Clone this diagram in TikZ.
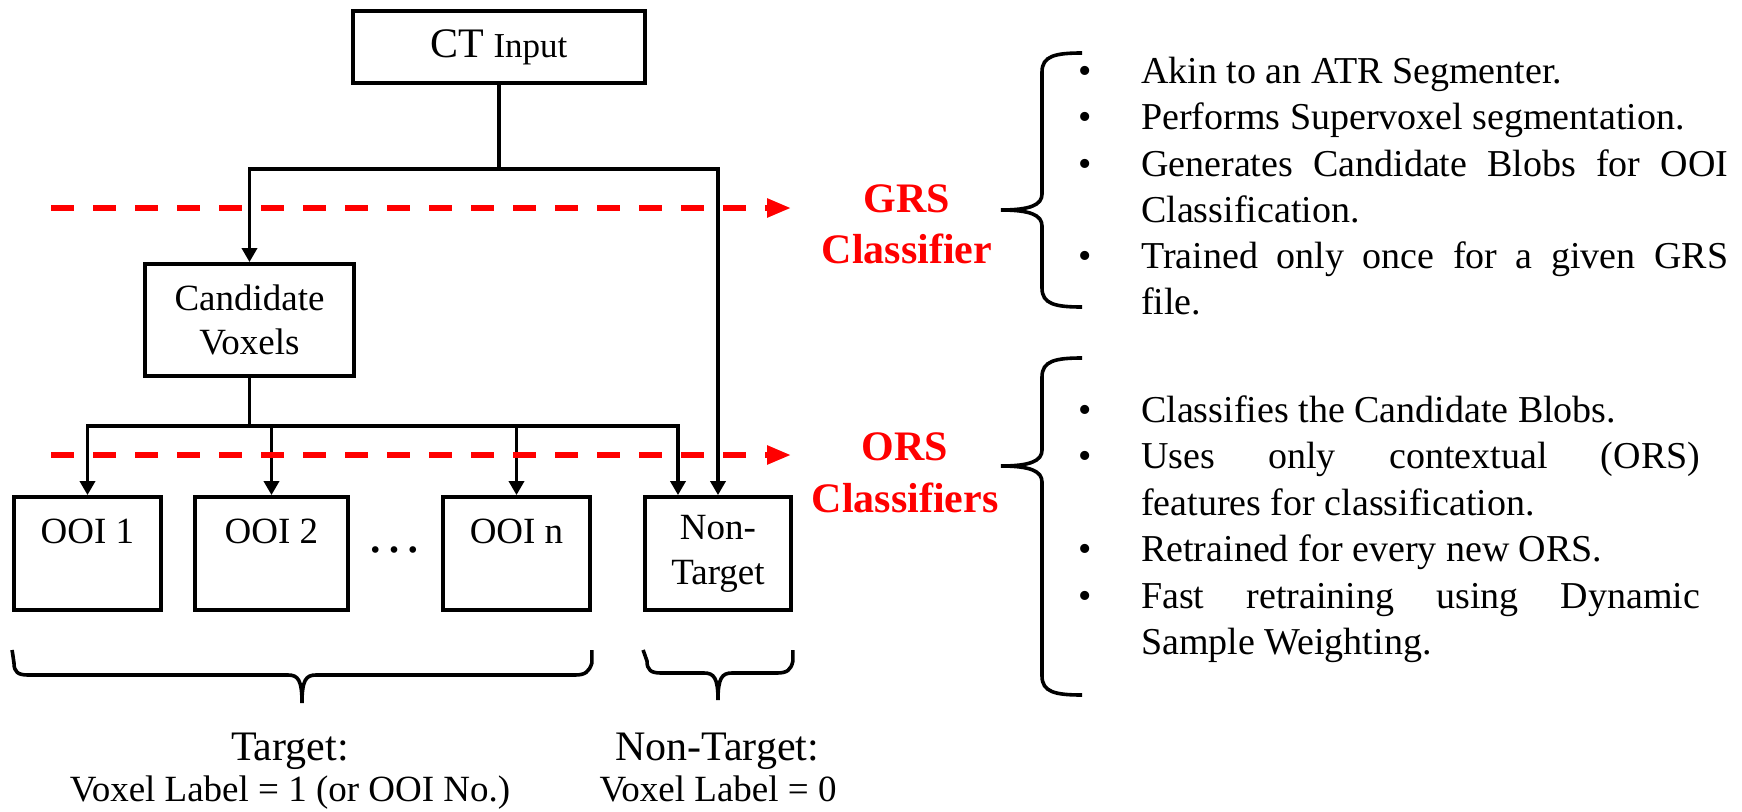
\documentclass[tikz,border=0pt]{standalone}
\usepackage{fontspec}
\setmainfont{Liberation Serif}
\usetikzlibrary{arrows.meta}
\begin{document}
\begin{tikzpicture}[x=1pt,y=-1pt,
  box/.style={draw,line width=3.8pt,inner sep=0pt,align=center,font=\fontsize{37}{45}\selectfont},
  conn/.style={line width=3.4pt},
  arr/.style={conn,-{Triangle[width=15pt,length=14pt]}},
  reddash/.style={draw=red,line width=5.5pt,dash pattern=on 23pt off 19pt,-{Triangle[width=18pt,length=24pt]}},
  redlbl/.style={anchor=base,text=red,font=\bfseries\fontsize{42}{50}\selectfont,inner sep=0pt},
  bul/.style={anchor=base,font=\fontsize{38}{46}\selectfont,inner sep=0pt},
  txt/.style={anchor=base west,font=\fontsize{38}{46}\selectfont,inner sep=0pt},
  lblbig/.style={anchor=base,font=\fontsize{42}{48}\selectfont,inner sep=0pt},
  lblsmall/.style={anchor=base,font=\fontsize{37}{44}\selectfont,inner sep=0pt},
  brace/.style={line width=3.6pt},
]
\useasboundingbox (0,0) rectangle (1742,811);

% boxes
\node[box,minimum width=292pt,minimum height=72pt] (ct) at (499,47)
  {\raisebox{-4pt}{{\fontsize{42}{50}\selectfont CT} {\fontsize{35}{42}\selectfont Input}}};
\node[box,minimum width=209pt,minimum height=112pt,font=\fontsize{37}{44}\selectfont] (cv) at (249.5,320) {Candidate\\Voxels};
\node[box,minimum width=147pt,minimum height=113pt] (o1) at (87.5,553.5) {OOI 1\\\mbox{}};
\node[box,minimum width=153pt,minimum height=113pt] (o2) at (271.5,553.5) {OOI 2\\\mbox{}};
\node[box,minimum width=147pt,minimum height=113pt] (on) at (516.5,553.5) {OOI n\\\mbox{}};
\node[box,minimum width=146pt,minimum height=113pt] (nt) at (718,553.5) {Non-\\Target};
\node[anchor=base,inner sep=0pt,font=\fontsize{56}{60}\selectfont] (dots) at (394,552) {…};

% connectors
\coordinate (j1) at (499,169);
\coordinate (j2) at (249.5,426);
\draw[conn] (ct.south) -- (j1);
\draw[arr] (j1) -| (cv.north);
\draw[arr] (j1) -| (nt.north);
\draw[conn] (cv.south) -- (j2);
\draw[arr] (j2) -| (o1.north);
\draw[arr] (j2) -| (o2.north);
\draw[arr] (j2) -| (on.north);
\draw[arr] (j2) -| ([xshift=-40pt]nt.north);

% red dashed arrows
\coordinate (g0) at (51,208);
\coordinate (g1) at (791,208);
\coordinate (r0) at (51,455);
\coordinate (r1) at (791,455);
\draw[reddash] (g0) -- (g1);
\draw[reddash] (r0) -- (r1);

% red labels
\node[redlbl] (grs1) at (907,212) {GRS};
\node[redlbl] (grs2) at (907,263) {Classifier};
\node[redlbl] (ors1) at (905,460) {ORS};
\node[redlbl] (ors2) at (905,512) {Classifiers};

% right braces
\draw[brace] (1082,53) .. controls (1055,53) and (1042,56) .. (1042,72) -- (1042,194)
  .. controls (1042,205) and (1030,210) .. (1001,210)
  .. controls (1030,210) and (1042,215) .. (1042,226) -- (1042,288)
  .. controls (1042,304) and (1055,307) .. (1082,307);
\draw[brace] (1082,358) .. controls (1055,358) and (1042,361) .. (1042,377) -- (1042,450)
  .. controls (1042,461) and (1030,466) .. (1001,466)
  .. controls (1030,466) and (1042,471) .. (1042,482) -- (1042,676)
  .. controls (1042,692) and (1055,695) .. (1082,695);

% GRS bullets
\node[bul] (gb1) at (1085,83) {•};
\node[bul] (gb2) at (1085,129) {•};
\node[bul] (gb3) at (1085,176) {•};
\node[bul] (gb4) at (1085,268) {•};
\node[txt] (gt1) at (1141,83) {Akin to an ATR Segmenter.};
\node[txt] (gt2) at (1141,129) {Performs Supervoxel segmentation.};
\node[txt] (gt3) at (1141,176) {\makebox[587pt][s]{Generates Candidate Blobs for OOI}};
\node[txt] (gt4) at (1141,222) {Classification.};
\node[txt] (gt5) at (1141,268) {\makebox[587pt][s]{Trained only once for a given GRS}};
\node[txt] (gt6) at (1141,314) {file.};

% ORS bullets
\node[bul] (ob1) at (1085,422) {•};
\node[bul] (ob2) at (1085,468.5) {•};
\node[bul] (ob3) at (1085,561.5) {•};
\node[bul] (ob4) at (1085,608) {•};
\node[txt] (ot1) at (1141,422) {Classifies the Candidate Blobs.};
\node[txt] (ot2) at (1141,468.5) {\makebox[559pt][s]{Uses only contextual (ORS)}};
\node[txt] (ot3) at (1141,515) {features for classification.};
\node[txt] (ot4) at (1141,561.5) {Retrained for every new ORS.};
\node[txt] (ot5) at (1141,608) {\makebox[559pt][s]{Fast retraining using Dynamic}};
\node[txt] (ot6) at (1141,654.5) {Sample Weighting.};

% bottom braces
\draw[brace] (o1.west |- 0,650) -- (14,663) .. controls (14,672) and (18,675) .. (28,675) -- (288,675)
  .. controls (298,675) and (302,680) .. (302,703)
  .. controls (302,680) and (306,675) .. (316,675) -- (575,675)
  .. controls (585,675) and (589,672) .. (on.east |- 0,663) -- (on.east |- 0,650);
\draw[brace] (nt.west |- 0,650) -- (647,661) .. controls (647,670) and (651,673) .. (661,673) -- (704,673)
  .. controls (714,673) and (718,678) .. (718,700)
  .. controls (718,678) and (722,673) .. (732,673) -- (777,673)
  .. controls (787,673) and (791,670) .. (nt.east |- 0,661) -- (nt.east |- 0,650);

% bottom labels
\node[lblbig] (tg1) at (290,760) {Target:};
\node[lblsmall] (tg2) at (290,801) {Voxel Label = 1 (or OOI No.)};
\node[lblbig] (nt1) at (717,760) {Non-Target:};
\node[lblsmall] (nt2) at (718,801) {Voxel Label = 0};
\end{tikzpicture}
\end{document}
